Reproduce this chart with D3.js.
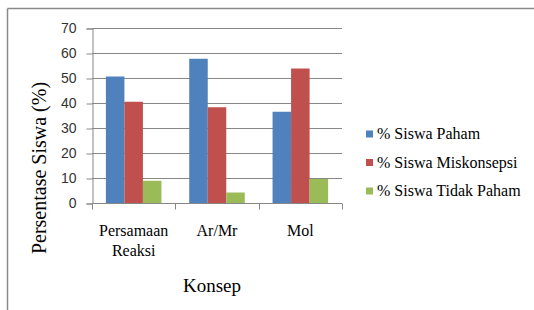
<!DOCTYPE html>
<html>
<head>
<meta charset="utf-8">
<script src="https://cdn.jsdelivr.net/npm/d3@7"></script>
<style>
  body { margin: 0; background: #fff; }
</style>
</head>
<body>
<div id="draw"></div>
<script>
// data
var categories = [["Persamaan", "Reaksi"], ["Ar/Mr"], ["Mol"]];
var seriesNames = ["% Siswa Paham", "% Siswa Miskonsepsi", "% Siswa Tidak Paham"];
var paham = [50.6, 57.7, 36.5];
var miskonsepsi = [40.5, 38.3, 53.8];
var tidakPaham = [8.9, 4.2, 9.6];
var yTicks = [0, 10, 20, 30, 40, 50, 60, 70];
var colors = ["#4F81BD", "#C0504D", "#9BBB59"];

var w = 534, h = 310;
var plotL = 92, plotR = 342, plotT = 28, plotB = 203;
var serif = "'Liberation Serif', 'Times New Roman', serif";

var svg = d3.select("#draw")
    .append("svg")
    .attr("width", w)
    .attr("height", h);

// chart border (top + left only visible)
svg.append("line").attr("x1", 7.5).attr("y1", 8.5).attr("x2", w).attr("y2", 8.5)
    .attr("stroke", "#8a8a8a").attr("stroke-width", 1.5);
svg.append("line").attr("x1", 7.5).attr("y1", 8.5).attr("x2", 7.5).attr("y2", h)
    .attr("stroke", "#8a8a8a").attr("stroke-width", 1.5);

var x0 = d3.scaleBand()
    .domain(d3.range(categories.length))
    .range([plotL, plotR])
    .paddingInner(0).paddingOuter(0);

var barW = x0.bandwidth() / (3 + 1.5);
var y = d3.scaleLinear().domain([0, 70]).range([plotB, plotT]);

// gridlines
svg.selectAll("line.grid")
    .data(yTicks.slice(1))
    .enter()
    .append("line")
    .attr("class", "grid")
    .attr("x1", plotL).attr("x2", plotR)
    .attr("y1", function(d) { return Math.round(y(d)) + 0.5; })
    .attr("y2", function(d) { return Math.round(y(d)) + 0.5; })
    .attr("stroke", "#878787")
    .attr("stroke-width", 1);

// y axis
var yAxis = svg.append("g")
    .attr("transform", "translate(" + (plotL + 0.5) + ",0.5)")
    .call(d3.axisLeft(y).tickValues(yTicks).tickSize(6).tickPadding(10));
yAxis.select(".domain").attr("stroke", "#878787");
yAxis.selectAll(".tick line").attr("stroke", "#878787");
yAxis.selectAll(".tick text")
    .attr("font-family", "'Liberation Sans', Arial, sans-serif")
    .attr("font-size", "14px")
    .attr("fill", "#333");

// bars
var seriesData = [paham, miskonsepsi, tidakPaham];
seriesData.forEach(function(vals, s) {
    svg.selectAll("rect.s" + s)
        .data(vals)
        .enter()
        .append("rect")
        .attr("class", "s" + s)
        .attr("x", function(d, i) { return x0(i) + barW * 0.75 + s * barW; })
        .attr("y", function(d) { return y(d); })
        .attr("width", barW)
        .attr("height", function(d) { return plotB - y(d); })
        .attr("fill", colors[s]);
});

// x axis
var xAxis = svg.append("g")
    .attr("transform", "translate(0," + (plotB + 0.5) + ")");
xAxis.append("line")
    .attr("x1", plotL).attr("x2", plotR)
    .attr("stroke", "#878787");
xAxis.selectAll("line.tk")
    .data(d3.range(categories.length + 1))
    .enter()
    .append("line")
    .attr("class", "tk")
    .attr("x1", function(d) { return Math.round(plotL + d * x0.bandwidth()) + 0.5; })
    .attr("x2", function(d) { return Math.round(plotL + d * x0.bandwidth()) + 0.5; })
    .attr("y1", 0).attr("y2", 6)
    .attr("stroke", "#878787");

var catText = svg.selectAll("text.cat")
    .data(categories)
    .enter()
    .append("text")
    .attr("class", "cat")
    .attr("x", function(d, i) { return x0(i) + x0.bandwidth() / 2; })
    .attr("y", 236)
    .attr("text-anchor", "middle")
    .attr("font-family", serif)
    .attr("font-size", "16px")
    .attr("fill", "#000");
catText.selectAll("tspan")
    .data(function(d) { return d; })
    .enter()
    .append("tspan")
    .attr("x", function() { return d3.select(this.parentNode).attr("x"); })
    .attr("dy", function(d, i) { return i === 0 ? 0 : 20; })
    .text(function(d) { return d; });

// axis titles
svg.append("text")
    .attr("x", 212)
    .attr("y", 292)
    .attr("text-anchor", "middle")
    .attr("font-family", serif)
    .attr("font-size", "19px")
    .text("Konsep");

svg.append("text")
    .attr("transform", "translate(46,168) rotate(-90)")
    .attr("text-anchor", "middle")
    .attr("font-family", serif)
    .attr("font-size", "20px")
    .text("Persentase Siswa (%)");

// legend
var legend = svg.selectAll("g.legend")
    .data(seriesNames)
    .enter()
    .append("g")
    .attr("class", "legend")
    .attr("transform", function(d, i) { return "translate(366," + (134 + i * 28.5) + ")"; });
legend.append("rect")
    .attr("x", 0).attr("y", -3.5)
    .attr("width", 7).attr("height", 7)
    .attr("fill", function(d, i) { return colors[i]; });
legend.append("text")
    .attr("x", 11)
    .attr("y", 5)
    .attr("font-family", serif)
    .attr("font-size", "16px")
    .text(function(d) { return d; });
</script>
</body>
</html>
